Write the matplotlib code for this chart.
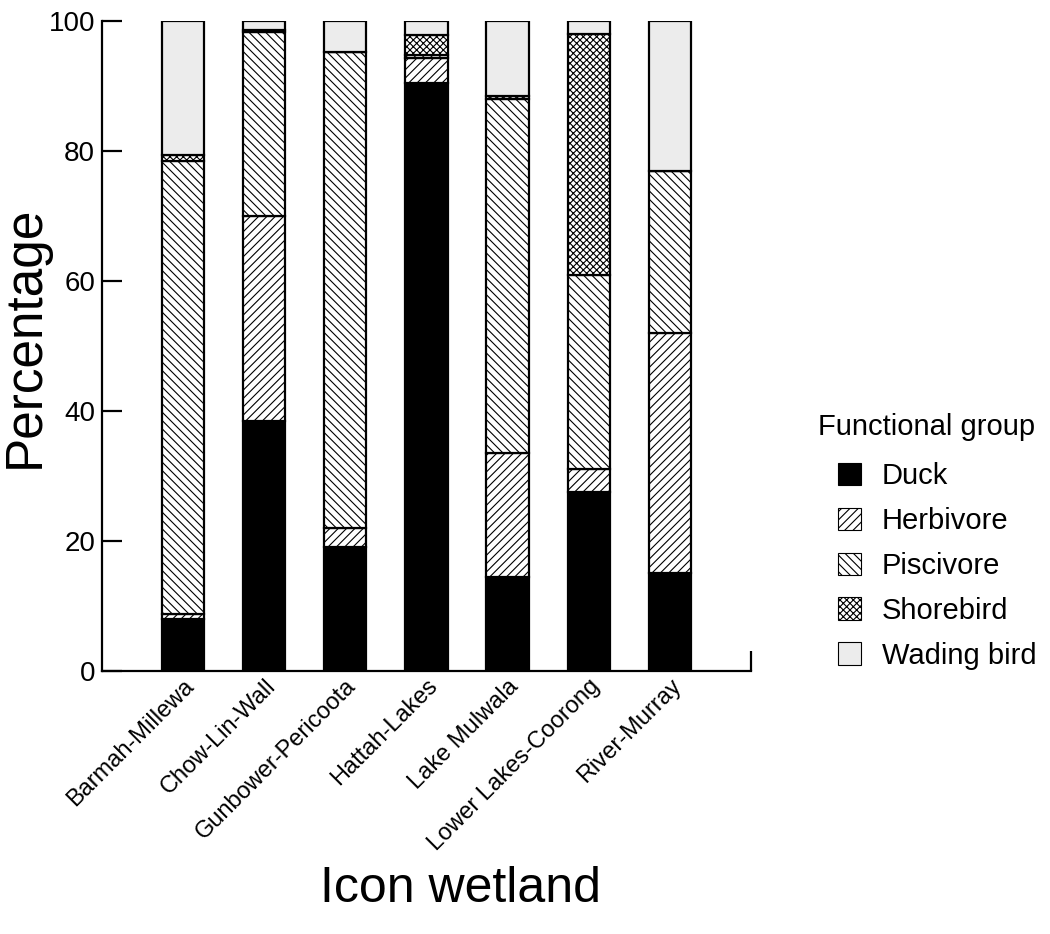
import numpy as np
import matplotlib
matplotlib.use("Agg")
import matplotlib.pyplot as plt
from matplotlib.patches import Patch

plt.rcParams['font.family'] = ['Liberation Sans', 'DejaVu Sans']
plt.rcParams['hatch.linewidth'] = 0.8
plt.rcParams['hatch.color'] = 'black'

wetlands = ["Barmah-Millewa", "Chow-Lin-Wall", "Gunbower-Pericoota", "Hattah-Lakes",
            "Lake Mulwala", "Lower Lakes-Coorong", "River-Murray"]

# pourcentages par groupe fonctionnel
duck = [8.0, 38.5, 19.0, 90.5, 14.5, 27.5, 15.0]
herbivore = [0.8, 31.5, 3.0, 3.8, 19.0, 3.5, 37.0]
piscivore = [69.7, 28.3, 73.3, 0.5, 54.5, 30.0, 25.0]
shorebird = [0.9, 0.3, 0.0, 3.0, 0.5, 37.0, 0.0]
wading = [20.6, 1.4, 4.7, 2.2, 11.5, 2.0, 23.0]

groups = ["Duck", "Herbivore", "Piscivore", "Shorebird", "Wading bird"]
series = [duck, herbivore, piscivore, shorebird, wading]
colors = ["black", "white", "white", "white", "#ececec"]
hatches = [None, "////", "\\\\\\\\", "xxxxx", None]

fig = plt.figure(figsize=(10.5, 9.34), dpi=100)
ax = fig.add_axes([0.0971, 0.2816, 0.6181, 0.6959])

x = np.arange(len(wetlands))
bottom = np.zeros(len(wetlands))
for vals, c, h in zip(series, colors, hatches):
    ax.bar(x, vals, width=0.52, bottom=bottom, color=c, edgecolor="black",
           linewidth=1.6, hatch=h, zorder=3)
    bottom += np.array(vals)

ax.set_xlim(-1, 7)
ax.set_ylim(0, 100)
ax.set_yticks([0, 20, 40, 60, 80, 100])
ax.set_xticks(x)
ax.set_xticks([7], minor=True)
ax.set_xticklabels(wetlands, rotation=45, ha="right", va="top", rotation_mode="anchor")

for s in ["top", "right"]:
    ax.spines[s].set_visible(False)
for s in ["left", "bottom"]:
    ax.spines[s].set_linewidth(1.6)

ax.tick_params(axis="y", direction="in", length=14.4, width=1.6, labelsize=20, pad=5)
ax.tick_params(axis="x", which="major", direction="in", length=14.4, width=1.6,
               labelsize=17, pad=3)
ax.tick_params(axis="x", which="minor", direction="in", length=14.4, width=1.6)

ax.set_ylabel("Percentage", fontsize=37)
ax.yaxis.set_label_coords(-0.08, 0.514)
ax.set_xlabel("Icon wetland", fontsize=36)
ax.xaxis.set_label_coords(0.552, -0.30)

fig.text(818 / 1050, 1 - 427 / 934, "Functional group", fontsize=21, va="center", ha="left")
handles = [Patch(facecolor=c, edgecolor="black", hatch=h, linewidth=0.8)
           for c, h in zip(colors, hatches)]
fig.legend(handles, groups, loc="upper left", bbox_to_anchor=(838 / 1050, 1 - 462 / 934),
           frameon=False, fontsize=21, borderpad=0, borderaxespad=0,
           handlelength=0.8, handleheight=0.8, handletextpad=0.7, labelspacing=0.58)

fig.savefig("out.png", dpi=100)
